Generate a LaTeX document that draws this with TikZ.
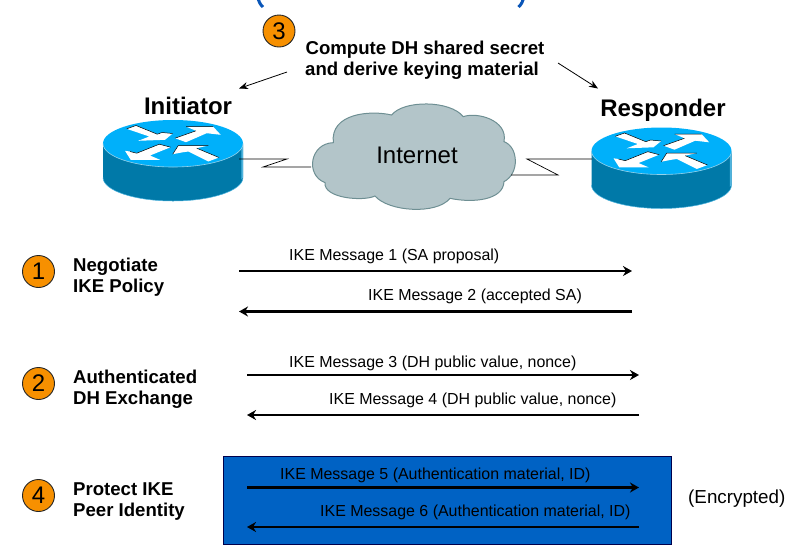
\documentclass[tikz,border=0pt]{standalone}
\usepackage{fontspec}
\setmainfont{Liberation Sans}
\usetikzlibrary{arrows.meta}
\definecolor{orng}{HTML}{F79000}
\definecolor{rtop}{HTML}{00B0FA}
\definecolor{rside}{HTML}{0079A8}
\definecolor{rrim}{HTML}{4FB4DE}
\definecolor{cloudf}{HTML}{B3C5C9}
\definecolor{cloudl}{HTML}{6E8F93}
\definecolor{boxb}{HTML}{0062C4}
\definecolor{parb}{HTML}{0A56B8}
\tikzset{
  num/.style={circle,draw=black!85,line width=0.9pt,fill=orng,minimum size=32pt,inner sep=0pt,font=\fontsize{24}{24}\selectfont},
  head/.style={anchor=base,inner sep=0pt,font=\fontsize{24}{24}\selectfont\bfseries},
  lab/.style={anchor=base west,inner sep=0pt,font=\fontsize{18.6}{18.6}\selectfont\bfseries},
  msg/.style={anchor=base west,inner sep=0pt,font=\fontsize{15.95}{16}\selectfont},
  wire/.style={draw=black,line width=0.7pt},
  thin arrow/.style={draw=black,line width=0.8pt,-{Stealth[length=9pt,width=7pt]}},
  msg arrow/.style={draw=black,line width=2.6pt,-{Stealth[length=9pt,width=10pt]}},
  rarrow/.style={fill=white,draw=none}
}
\newcommand{\routerdraw}[2]{%
 \begin{scope}[shift={(#1,#2)}]
  \fill[rside] (-70,0) -- (-70,34) arc[start angle=180,end angle=0,x radius=70,y radius=23.5] -- (70,0) -- cycle;
  \fill[rrim] (68.3,2) -- (70,2) -- (70,34) -- (68.3,36) -- cycle;
  \fill[rtop] (0,0) ellipse[x radius=70,y radius=23.5];
  \draw[rrim!60!white,line width=0.6pt] (-70,0) arc[start angle=180,end angle=0,x radius=70,y radius=23.5];
  \draw[rrim,line width=0.5pt] (-70,34) arc[start angle=180,end angle=0,x radius=70,y radius=23.5];
  \fill[rarrow] (-46.3,-14.7) -- (-37,-18) -- (-15.7,-9.3) -- (-11,-11) -- (-0.3,-10) -- (-8,-3.7) -- (-34.7,-2.7) -- (-23.7,-7) -- cycle;
  \fill[rarrow] (2,-5.3) -- (23,-12.7) -- (13,-17) -- (40,-17) -- (47.7,-8.7) -- (33.7,-10.3) -- (13,-1.3) -- cycle;
  \fill[rarrow] (-48,7.3) -- (-42.3,16.3) -- (-13,16.3) -- (-23,12) -- (-2.3,3.7) -- (-13.7,0.7) -- (-36.3,9.7) -- (-43,8) -- cycle;
  \fill[rarrow] (-0.3,10.7) -- (5.3,2) -- (35.3,2) -- (23.7,4.7) -- (46,14) -- (35.3,18) -- (15.3,8) -- (10.3,8.7) -- cycle;
  \draw[black,line width=0.5pt] (-46.3,-14.7) -- (-37,-18) -- (-15.7,-9.3) -- (-11,-11) -- (-0.3,-10);
  \draw[black,line width=0.5pt] (2,-5.3) -- (23,-12.7) (13,-17) -- (40,-17);
  \draw[black,line width=0.5pt] (-43,8) -- (-36.3,9.7) -- (-13.7,0.7) -- (-2.3,3.7);
  \draw[black,line width=0.5pt] (-0.3,10.7) -- (5.3,2) -- (35.3,2) (23.7,4.7) -- (46,14);
 \end{scope}}
\begin{document}
\begin{tikzpicture}[x=1pt,y=-1pt]
\useasboundingbox (0,0) rectangle (801,550);
\begin{scope}
\clip (0,0) rectangle (801,550);
\draw[parb,line width=3pt] (263,7) .. controls (260,4.5) and (258.5,1) .. (257.5,-4);
\draw[parb,line width=3pt] (518.5,7) .. controls (521.5,4.5) and (523,1) .. (524,-4);
\end{scope}
\coordinate (zl1) at (287,159); \coordinate (zl2) at (263,167);
\coordinate (zr1) at (558,175); \coordinate (zr2) at (527,159);
\routerdraw{173}{143.5}
\routerdraw{661.5}{151}
\coordinate (rl) at (239,159);
\coordinate (rr) at (592,159);
\begin{scope}[shift={(300,100)},x=0.3333pt,y=-0.3333pt]
\path[fill=cloudf,draw=cloudl,line width=1pt]
 (100,128) .. controls (30,130) and (15,225) .. (75,248)
 .. controls (70,295) and (190,305) .. (225,288)
 .. controls (265,335) and (410,345) .. (450,295)
 .. controls (520,310) and (610,300) .. (612,245)
 .. controls (660,220) and (655,140) .. (612,125)
 .. controls (625,60) and (530,35) .. (490,50)
 .. controls (450,0) and (310,0) .. (275,45)
 .. controls (210,30) and (90,40) .. (100,128) -- cycle;
\end{scope}
\node[inner sep=0pt,anchor=base,font=\fontsize{24}{24}\selectfont] (inet) at (417,163.5) {Internet};
\coordinate (cl) at (311,167);
\coordinate (cr) at (511,175);
\path[wire] (rl) -- (zl1) -- (zl2) -- (cl);
\path[wire] (cr) -- (zr1) -- (zr2) -- (rr);
\node[head] (init) at (188,114) {Initiator};
\node[head] (resp) at (663,116) {Responder};
\node[num] (n3) at (279,31) {3};
\node[inner sep=0pt,anchor=base,font=\fontsize{18.6}{18.6}\selectfont\bfseries] (dh1) at (425,54.5) {Compute DH shared secret};
\node[inner sep=0pt,anchor=base,font=\fontsize{18.6}{18.6}\selectfont\bfseries] (dh2) at (422,75.5) {and derive keying material};
\coordinate (al1) at (287,72); \coordinate (al2) at (239,88.5);
\coordinate (ar1) at (558,63); \coordinate (ar2) at (598,88.5);
\draw[thin arrow] (al1) -- (al2);
\draw[thin arrow] (ar1) -- (ar2);
\node[num] (n1) at (38.5,271.5) {1};
\node[num] (n2) at (38.5,383.5) {2};
\node[num] (n4) at (38.5,495.5) {4};
\node[lab] (l1a) at (73,271) {Negotiate};
\node[lab] (l1b) at (73,292) {IKE Policy};
\node[lab] (l2a) at (73,383) {Authenticated};
\node[lab] (l2b) at (73,404) {DH Exchange};
\node[lab] (l4a) at (73,495) {Protect IKE};
\node[lab] (l4b) at (73,516) {Peer Identity};
\node[draw=black!70!blue,line width=0.8pt,fill=boxb,minimum width=448.5pt,minimum height=88pt,inner sep=0pt,anchor=north west] (bx) at (222.5,455.5) {};
\node[msg] (m1) at (289,260) {IKE Message 1 (SA proposal)};
\node[msg] (m2) at (368,300) {IKE Message 2 (accepted SA)};
\node[msg] (m3) at (289,367) {IKE Message 3 (DH public value, nonce)};
\node[msg] (m4) at (329,404) {IKE Message 4 (DH public value, nonce)};
\node[msg] (m5) at (280,479) {IKE Message 5 (Authentication material, ID)};
\node[msg] (m6) at (320,516) {IKE Message 6 (Authentication material, ID)};
\node[msg,font=\fontsize{18.8}{18.8}\selectfont] (enc) at (688,503) {(Encrypted)};
\foreach \n/\xa/\ya/\xb/\yb in {a1/239/271/632/271,a2/632/311.5/239/311.5,a3/247/375/639/375,a4/639/415/247/415,a5/247/487.5/639/487.5,a6/639/527/247/527}{
  \coordinate (\n s) at (\xa,\ya);
  \coordinate (\n e) at (\xb,\yb);
  \draw[msg arrow] (\n s) -- (\n e);
}
\end{tikzpicture}
\end{document}
